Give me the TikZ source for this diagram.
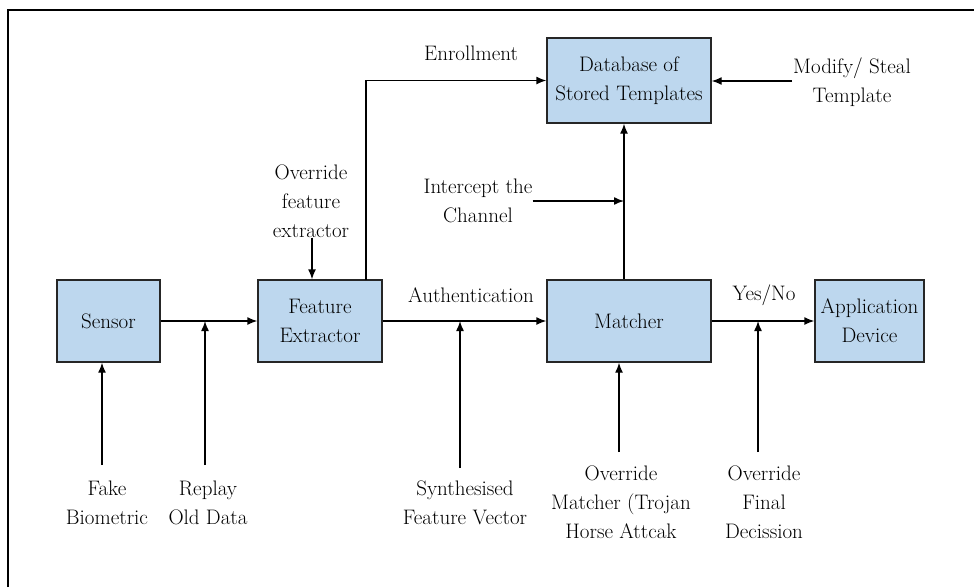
\documentclass[tikz,border=0pt]{standalone}
\usetikzlibrary{arrows.meta,calc}
\definecolor{boxblue}{RGB}{189,215,238}
\tikzset{
  blk/.style={draw=black!85,line width=1.4pt,fill=boxblue,minimum height=82pt,align=center,inner sep=2pt},
  lbl/.style={align=center,inner sep=0pt},
  arr/.style={line width=1.4pt,-{Latex[length=10pt,width=8pt]}},
}
\begin{document}
\begin{tikzpicture}[x=1pt,y=-1pt,font=\fontsize{21}{29}\selectfont]
\useasboundingbox (0,0) rectangle (974,587);
\draw[line width=2.5pt] (8,587) -- (8,10) -- (974,10);
% blocks
\node[blk,minimum width=103pt] (sensor) at (108.5,321) {Sensor};
\node[blk,minimum width=124pt] (fe) at (320,321) {Feature\\Extractor};
\node[blk,minimum width=164pt] (matcher) at (629,321) {Matcher};
\node[blk,minimum width=109pt] (app) at (869.5,321) {Application\\Device};
\node[blk,minimum width=164pt,minimum height=85pt] (db) at (629,80.5) {Database of\\Stored Templates};
% labels
\node[lbl] (enroll) at (471,53) {Enrollment};
\node[lbl] (modify) at (852,82) {Modify/ Steal\\Template};
\node[lbl] (intercept) at (478,201) {Intercept the\\Channel};
\node[lbl] (ofe) at (311,201) {Override\\feature\\extractor};
\node[lbl] (auth) at (471,295) {Authentication};
\node[lbl] (yesno) at (764,295) {Yes/No};
\node[lbl] (fake) at (107,503) {Fake\\Biometric};
\node[lbl] (replay) at (208,503) {Replay\\Old Data};
\node[lbl] (synth) at (465,503) {Synthesised\\Feature Vector};
\node[lbl] (om) at (621,502) {Override\\Matcher (Trojan\\Horse Attcak};
\node[lbl] (ofd) at (764,502) {Override\\Final\\Decission};
% coordinates
\coordinate (en) at (366,280);
\coordinate (mx) at (624,200);
\coordinate (mdx) at (792,81);
\coordinate (f0) at (102,465);
\coordinate (r0) at (205,465);
\coordinate (s0) at (460,468);
\coordinate (m0) at (619,452);
\coordinate (d0) at (758,452);
% main flow
\draw[arr] (sensor.east) -- (fe.west);
\draw[arr] (fe.east) -- (matcher.west);
\draw[arr] (matcher.east) -- (app.west);
\draw[arr] (en) |- (db.west);
\draw[arr] (matcher.north -| mx) -- (db.south -| mx);
% attacks
\draw[arr] (mdx) -- (mdx -| db.east);
\draw[arr] (intercept.east) -- (intercept.east -| mx);
\draw[arr] (ofe.south -| 312,0) -- (fe.north -| 312,0);
\draw[arr] (f0) -- (f0 |- sensor.south);
\draw[arr] (r0) -- (r0 |- sensor.east);
\draw[arr] (s0) -- (s0 |- fe.east);
\draw[arr] (m0) -- (m0 |- matcher.south);
\draw[arr] (d0) -- (d0 |- matcher.east);
\end{tikzpicture}
\end{document}
